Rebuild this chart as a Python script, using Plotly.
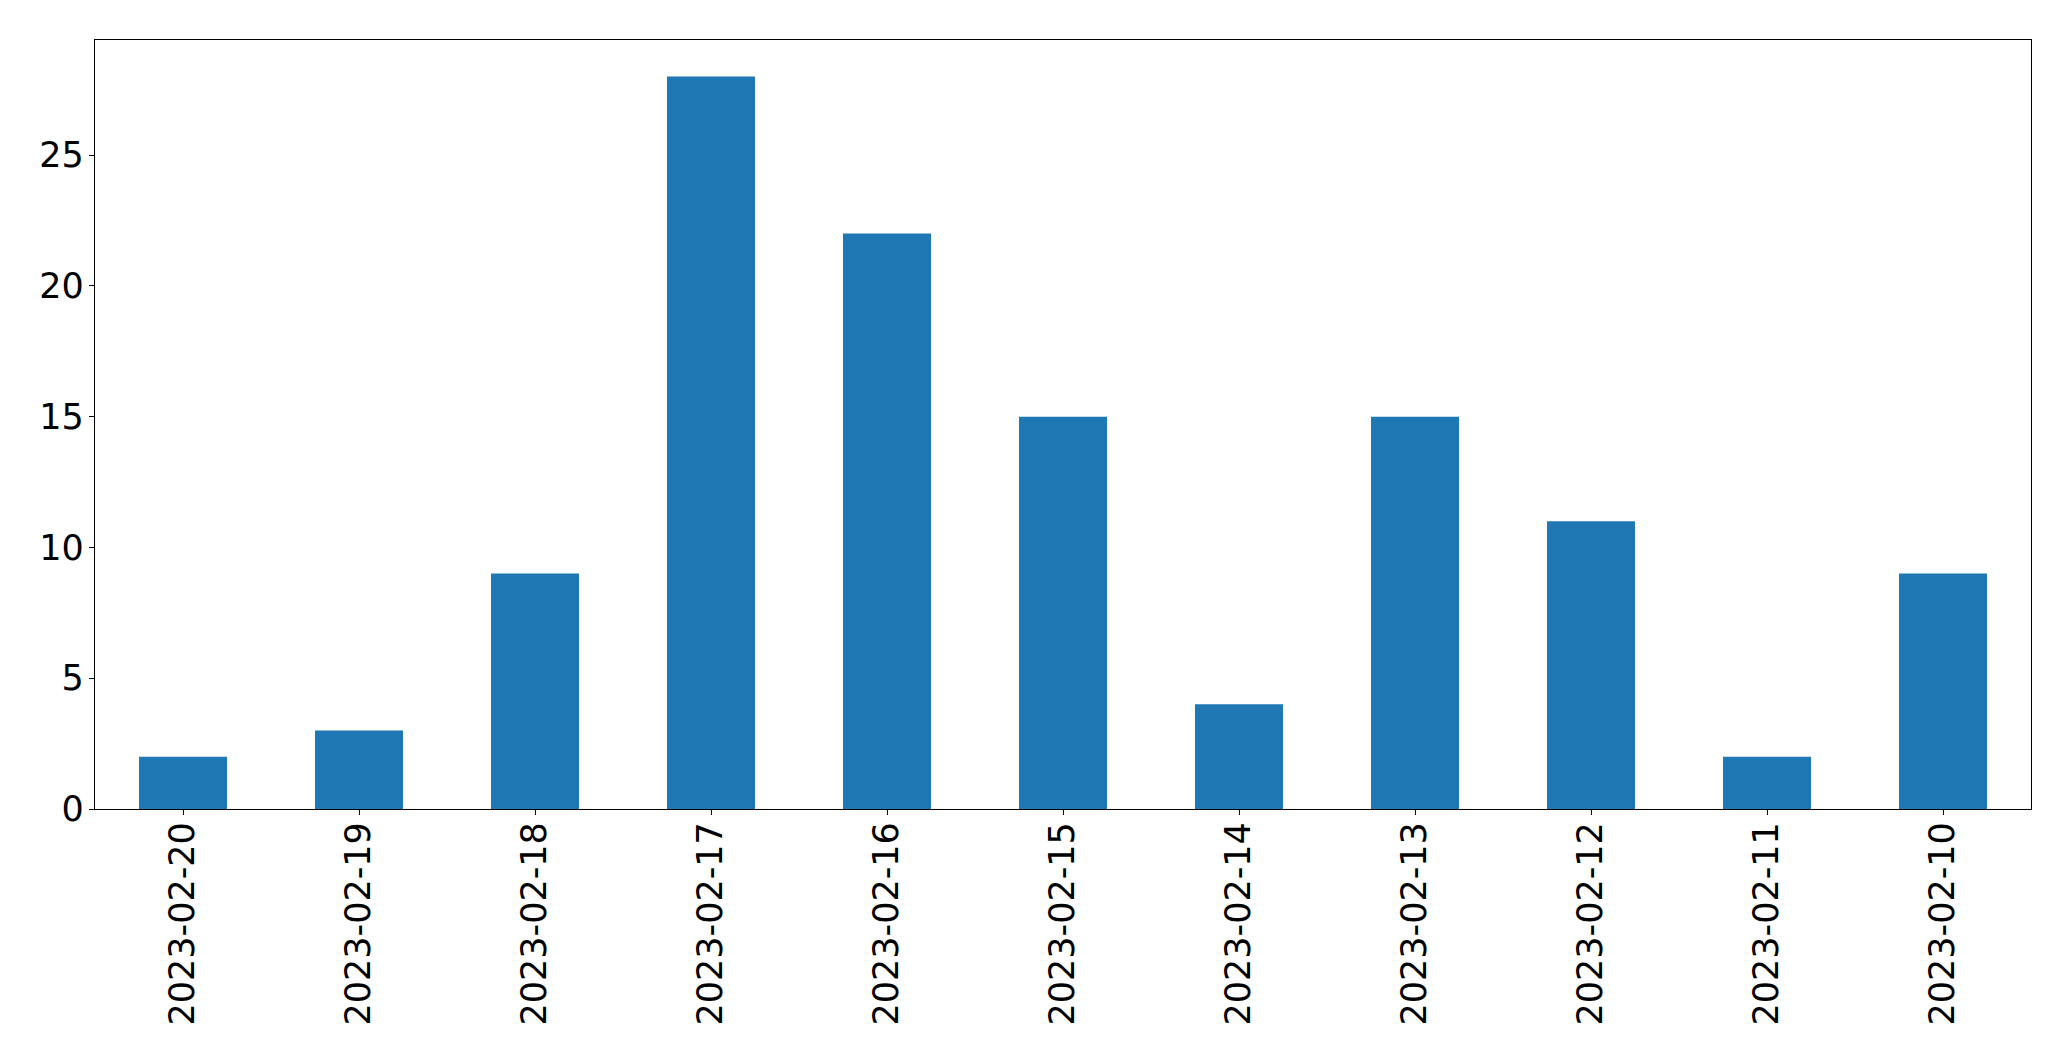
import plotly.graph_objects as go

dates = ["2023-02-20", "2023-02-19", "2023-02-18", "2023-02-17", "2023-02-16",
         "2023-02-15", "2023-02-14", "2023-02-13", "2023-02-12", "2023-02-11", "2023-02-10"]
counts = [2, 3, 9, 28, 22, 15, 4, 15, 11, 2, 9]
y_ticks = [0, 5, 10, 15, 20, 25]

fig = go.Figure(go.Bar(x=dates, y=counts, marker_color="#1f77b4", marker_line_width=0))

font = dict(family="DejaVu Sans", size=35, color="black")
fig.update_layout(
    width=2071, height=1061,
    margin=dict(l=94.5, r=39.5, t=39.5, b=252),
    plot_bgcolor="white", paper_bgcolor="white",
    bargap=0.5, showlegend=False, font=font,
)
fig.update_xaxes(type="category", range=[-0.5, len(dates) - 0.5], tickangle=-90,
                 showline=True, linecolor="black", linewidth=1.3, mirror=True,
                 ticks="outside", ticklen=5, tickwidth=1.3, tickcolor="black",
                 showgrid=False, tickfont=font, automargin=False, ticklabelstandoff=-7)
fig.update_yaxes(range=[0, 29.4], tickvals=y_ticks,
                 showline=True, linecolor="black", linewidth=1.3, mirror=True,
                 ticks="outside", ticklen=5, tickwidth=1.3, tickcolor="black",
                 showgrid=False, zeroline=False, tickfont=font, automargin=False,
                 ticklabelstandoff=-2)
fig.write_html("out.html", config={"displayModeBar": False},
               post_script="document.body.style.margin='0';document.body.style.overflow='hidden';")
